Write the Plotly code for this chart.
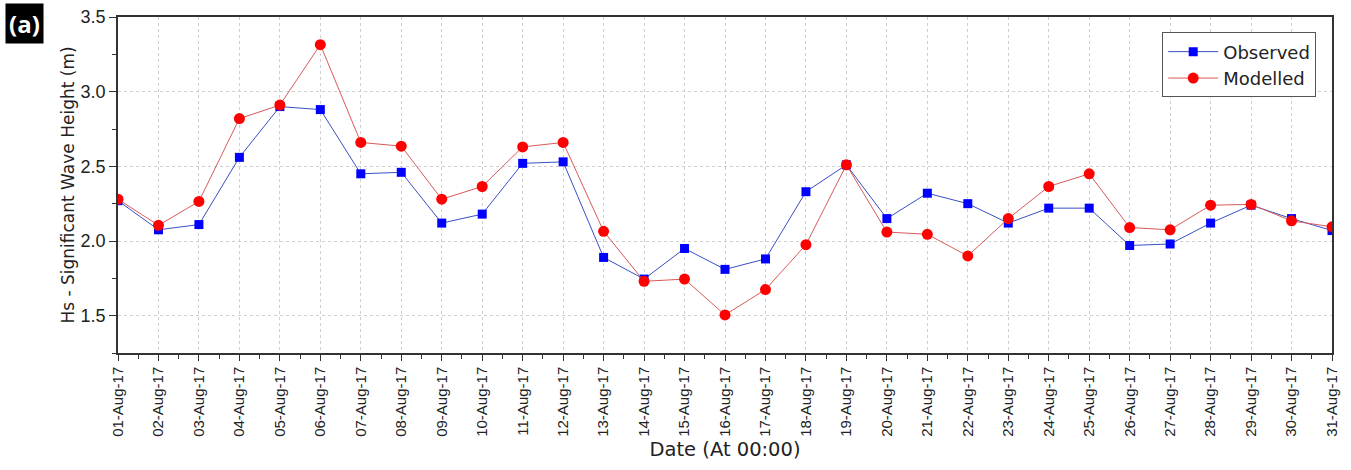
import plotly.graph_objects as go

dates = [f"2017-08-{d:02d}" for d in range(1, 32)]
observed = [2.27, 2.075, 2.11, 2.56, 2.90, 2.88, 2.45, 2.46, 2.12, 2.18,
            2.52, 2.53, 1.89, 1.745, 1.95, 1.81, 1.88, 2.33, 2.51, 2.15,
            2.32, 2.25, 2.12, 2.22, 2.22, 1.97, 1.98, 2.12, 2.24, 2.15, 2.07]
modelled = [2.28, 2.105, 2.265, 2.82, 2.91, 3.315, 2.66, 2.635, 2.28, 2.365,
            2.63, 2.66, 2.065, 1.73, 1.745, 1.505, 1.675, 1.975, 2.51, 2.06,
            2.045, 1.90, 2.15, 2.365, 2.45, 2.09, 2.075, 2.24, 2.245, 2.135, 2.095]

FONT = "Liberation Sans, Arial, sans-serif"
WIDE = "DejaVu Sans, sans-serif"

fig = go.Figure()
fig.add_trace(go.Scatter(
    x=dates, y=observed, name="Observed", mode="lines+markers",
    line=dict(color="#3a4fc4", width=1),
    marker=dict(symbol="square", size=9, color="#0000ff"),
))
fig.add_trace(go.Scatter(
    x=dates, y=modelled, name="Modelled", mode="lines+markers",
    line=dict(color="#d85a5a", width=1),
    marker=dict(symbol="circle", size=11, color="#ff0000"),
))

axis_common = dict(
    showline=True, linecolor="#333333", linewidth=1.5, mirror=True,
    ticks="outside", tickcolor="#333333", tickwidth=1.2,
    showgrid=True, gridcolor="#cfcfcf", griddash="dot", gridwidth=1,
    zeroline=False, automargin=False,
)

fig.update_xaxes(
    **axis_common,
    type="date",
    range=[dates[0], dates[-1]],
    dtick=86400000, tick0=dates[0],
    tickformat="%d-%b-%y", tickangle=-90, ticklen=6,
    tickfont=dict(family=FONT, size=15, color="#222222"),
    minor=dict(dtick=43200000, ticks="outside", ticklen=4,
               tickcolor="#333333", showgrid=False),
    title=dict(text="Date (At 00:00)", font=dict(family=WIDE, size=19.5, color="#222222"),
               standoff=7),
)
fig.update_yaxes(
    **axis_common,
    range=[1.25, 3.5], dtick=0.5, tick0=1.5, tickformat=".1f", ticklen=7,
    tickfont=dict(family=FONT, size=18, color="#222222"),
    minor=dict(dtick=0.25, ticks="outside", ticklen=4,
               tickcolor="#333333", showgrid=False),
    title=dict(text="Hs - Significant Wave Height (m)",
               font=dict(family=WIDE, size=17, color="#222222"), standoff=2),
)

fig.add_annotation(
    text="<b>(a)</b>", xref="paper", yref="paper",
    x=-0.0774, y=0.982, xanchor="center", yanchor="middle",
    showarrow=False, bgcolor="#000000", borderpad=3,
    font=dict(family="Open Sans, sans-serif", size=24, color="#ffffff"),
)

fig.update_layout(
    width=1351, height=470,
    margin=dict(l=118, r=19, t=17, b=117),
    plot_bgcolor="#ffffff", paper_bgcolor="#ffffff",
    showlegend=True,
    legend=dict(
        x=0.987, y=0.954, xanchor="right", yanchor="top",
        bordercolor="#555555", borderwidth=1, bgcolor="#ffffff",
        font=dict(family=WIDE, size=18, color="#222222"),
        itemwidth=50, tracegroupgap=0,
    ),
)

# remove the browser's default 8px body margin so the figure fills the window
fig.write_html("out.html", config={"displayModeBar": False},
               post_script="document.body.style.margin='0';")
